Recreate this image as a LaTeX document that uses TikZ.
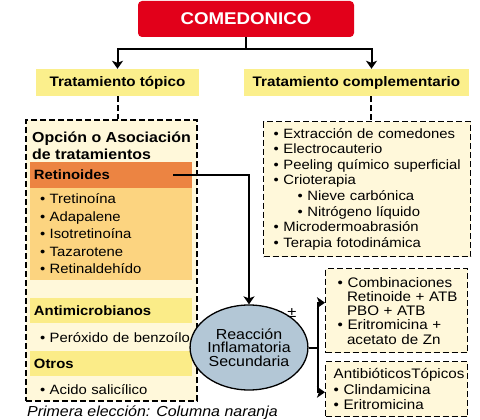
\documentclass[tikz,border=0pt]{standalone}
\usepackage{fontspec}
\setmainfont{Liberation Sans}[FakeStretch=1.1]
\usepackage{tikz}
\usetikzlibrary{positioning,arrows.meta,shapes.geometric,calc}

\definecolor{rojocom}{HTML}{E2001A}
\definecolor{amarillocab}{HTML}{FBEF8C}
\definecolor{amarillofr}{HTML}{FBEC88}
\definecolor{crema}{HTML}{FFF8DA}
\definecolor{naranjaret}{HTML}{EC8442}
\definecolor{naranjaclaro}{HTML}{FCD480}
\definecolor{azulelipse}{HTML}{B3C7D6}

\hyphenpenalty=10000
\exhyphenpenalty=10000

\begin{document}
\begin{tikzpicture}[x=1pt, y=-1pt, align=left,
    sincorte/.style={execute at begin node={\rightskip=0pt plus 1fil minus 30pt}},
    cabecera/.style={fill=amarillocab, minimum height=27pt, inner sep=0pt, font=\fontsize{13.8}{16}\selectfont\bfseries},
    caja/.style={draw, line width=1.4pt, dash pattern=on 6pt off 3pt, fill=crema, sincorte},
    franja/.style={minimum width=162pt, minimum height=25pt, text width=154pt, inner xsep=4pt, inner ysep=0pt, font=\fontsize{13.5}{16}\selectfont\bfseries},
    lista/.style={minimum width=162pt, text width=142pt, inner xsep=10pt, inner ysep=0pt, font=\fontsize{13.5}{17.5}\selectfont, sincorte},
    flecha/.style={line width=2pt, -{Stealth[length=8pt, width=11pt, inset=2pt]}},
    guion/.style={line width=2pt, dash pattern=on 6pt off 3pt}]

    \useasboundingbox (0,0) rectangle (480,420);

    \node [fill=rojocom, rounded corners=4pt, text=white, minimum width=216pt, minimum height=36pt, font=\fontsize{17}{20}\selectfont\bfseries] (comedonico) at (246,19) {COMEDONICO};

    \node [cabecera, minimum width=163pt] (topico) at (117.5,82.5) {Tratamiento tópico};
    \node [cabecera, minimum width=225pt] (complementario) at (356.5,82.5) {Tratamiento complementario};

    % columna izquierda
    \node [caja, minimum width=171pt, minimum height=281pt] (opcion) at (111.5,260.5) {};
    \node [anchor=north west, inner sep=0pt, font=\fontsize{14.5}{17}\selectfont\bfseries] (titulo) at (32,132) {Opción o Asociación\\de tratamientos};

    \node [franja, fill=naranjaret] (retinoides) at (111,175) {Retinoides};
    \node [lista, fill=naranjaclaro, minimum height=92pt, below=0pt of retinoides] (retlista) {• Tretinoína\\• Adapalene\\• Isotretinoína\\• Tazarotene\\• Retinaldehído};

    \node [franja, fill=amarillofr, below=18pt of retlista] (antimicro) {Antimicrobianos};
    \node [lista, minimum height=27pt, below=0pt of antimicro] (peroxido) {• Peróxido de benzoílo};
    \node [franja, fill=amarillofr, below=0pt of peroxido] (otros) {Otros};
    \node [lista, minimum height=27pt, below=0pt of otros] (acido) {• Acido salicílico};

    % columna derecha
    \node [caja, anchor=north west, minimum width=207pt, minimum height=135pt, text width=187pt, inner xsep=10pt, inner ysep=0pt, font=\fontsize{13.5}{15.6}\selectfont] (tratlista) at (263,121) {• Extracción de comedones\\• Electrocauterio\\• Peeling químico superficial\\• Crioterapia\\\hspace*{24pt}• Nieve carbónica\\\hspace*{24pt}• Nitrógeno líquido\\• Microdermoabrasión\\• Terapia fotodinámica};

    \node [ellipse, draw, line width=1.3pt, fill=azulelipse, minimum width=94pt, minimum height=85pt, inner sep=0pt, align=center, font=\fontsize{14.5}{13.5}\selectfont] (reaccion) at (249,347.5) {Reacción\\Inflamatoria\\Secundaria};
    \node [inner sep=0pt, font=\fontsize{15}{16}\selectfont] (masmenos) at (292,313) {±};

    \node [caja, anchor=north west, minimum width=142pt, minimum height=84pt, text width=118pt, inner xsep=12pt, inner ysep=0pt, font=\fontsize{13.8}{14.25}\selectfont] (combinaciones) at (325,268) {• Combinaciones\\\hspace*{9.3pt}Retinoide + ATB\\\hspace*{9.3pt}PBO + ATB\\• Eritromicina +\\\hspace*{9.3pt}acetato de Zn};
    \node [caja, anchor=north west, minimum width=142pt, minimum height=55pt, text width=126pt, inner xsep=8pt, inner ysep=0pt, font=\fontsize{13.8}{15.5}\selectfont] (antibioticos) at (325,361) {AntibióticosTópicos\\• Clindamicina\\• Eritromicina};

    % conectores
    \draw [flecha] (comedonico.south) -- ++(0,12) -| (topico.north);
    \coordinate (compl_arriba) at ([xshift=15pt]complementario.north);
    \draw [flecha] (comedonico.south) -- ++(0,12) -| (compl_arriba);

    \draw [guion] (topico.south) -- (topico.south |- opcion.north);
    \coordinate (compl_abajo) at ([xshift=14pt]complementario.south);
    \draw [guion] (compl_abajo) -- (compl_abajo |- tratlista.north);

    \coordinate (retpunto) at ($(retinoides.east)+(-19,0)$);
    \draw [flecha] (retpunto) -| (reaccion.north);

    \coordinate (bifurca) at ($(reaccion.east)+(9,0)$);
    \draw [line width=2pt] (reaccion.east) -- (bifurca);
    \draw [flecha] (bifurca) |- ([yshift=8pt]combinaciones.west);
    \draw [flecha] (bifurca) |- ([yshift=-3pt]antibioticos.west);

    \node [anchor=base west, inner sep=0pt, font=\fontsize{14.5}{16}\selectfont\itshape] (leyenda) at (27,416) {Primera elección: Columna naranja};

\end{tikzpicture}
\end{document}
